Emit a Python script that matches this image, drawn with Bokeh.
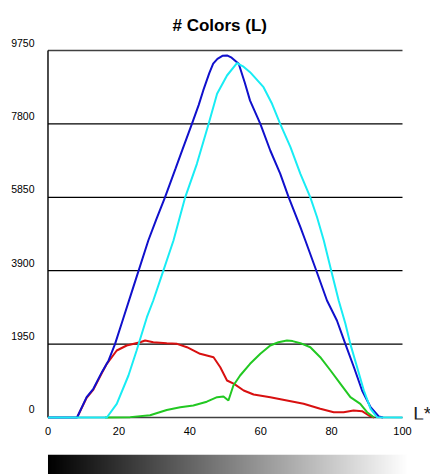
from bokeh.plotting import figure
from bokeh.models import ColumnDataSource, FixedTicker, LinearAxis, Range1d
from bokeh.core.properties import value
from bokeh.layouts import column
from bokeh.embed import file_html
from bokeh.resources import INLINE
import numpy as np

# ---------------- data ----------------
y_ticks = [0, 1950, 3900, 5850, 7800, 9750]
y_tick_labels = ["0", "1950", "3900", "5850", "7800", "9750"]
x_ticks = [0, 20, 40, 60, 80, 100]

blue_L = [0, 8.2, 10.9, 12.8, 15.2, 17.1, 18.9, 21, 24, 28.3, 30.5, 33, 36, 38,
          40.6, 42.5, 43.8, 45.5, 46.6, 47.8, 49.2, 50.5, 51.8, 53.8, 55.5, 57,
          59.9, 62.7, 65.5, 67.9, 71.2, 72.6, 75.7, 78.7, 81.5, 83.9, 86.3,
          88.6, 91, 93.3, 94.5]
blue_n = [0, 0, 540, 762, 1205, 1515, 1950, 2565, 3444, 4703, 5250, 5850, 6620,
          7135, 7800, 8300, 8690, 9150, 9400, 9530, 9610, 9620, 9560, 9400,
          8900, 8420, 7800, 7094, 6480, 5850, 5056, 4703, 3900, 3109, 2577,
          1950, 1336, 717, 274, 27, 0]

cyan_L = [0, 16.6, 19.4, 22.7, 25, 27.9, 29.7, 32, 35.4, 38.7, 42, 45.3, 47.7,
          50.5, 53.3, 55, 57, 60.8, 63.2, 65.5, 68.4, 71.2, 74, 75.9, 77.8,
          79.9, 82, 83.9, 85.3, 87.2, 89.1, 91, 92.8, 100]
cyan_n = [0, 0, 364, 1116, 1780, 2665, 3109, 3750, 4703, 5850, 6740, 7800,
          8600, 9087, 9413, 9330, 9175, 8776, 8335, 7800, 7182, 6475, 5850,
          5322, 4703, 3900, 3109, 2490, 1950, 1336, 717, 230, 8, 0]

red_L = [8.2, 10.9, 12.8, 15.2, 16.6, 19.4, 22.2, 26, 27.4, 29.7, 33.5, 36.4,
         39.2, 42.9, 46.7, 48.6, 50.5, 52.5, 55.2, 58, 62.7, 67.4, 72.1, 76.8,
         80.6, 83.4, 86.2, 88.6, 90.5, 92]
red_n = [0, 520, 740, 1180, 1426, 1780, 1913, 2000, 2046, 2000, 1975, 1957,
         1868, 1692, 1602, 1336, 983, 895, 717, 611, 540, 452, 364, 231, 141,
         141, 186, 168, 53, 0]

green_L = [16.1, 23.2, 28.8, 33.5, 37.3, 41, 44.8, 47.7, 49.5, 50.9, 52.3,
           54.2, 57, 59.9, 62.7, 65, 67.4, 69, 71.2, 74, 76.8, 79.7, 82.5,
           85.3, 88.1, 90, 91.9]
green_n = [0, 10, 60, 200, 274, 319, 420, 540, 558, 452, 850, 1116, 1426, 1692,
           1913, 2000, 2046, 2030, 1975, 1868, 1602, 1249, 895, 540, 364, 141, 8]

FONT = "Liberation Sans"
X_RANGE = (-0.42, 107.9)

# ---------------- main chart ----------------
p = figure(width=430, height=450, output_backend="svg", toolbar_location=None,
           x_range=Range1d(*X_RANGE), y_range=Range1d(-53, 10070),
           min_border_left=46, min_border_right=0, min_border_top=38,
           min_border_bottom=31, x_axis_location=None, y_axis_location=None,
           title="# Colors (L)")
p.outline_line_color = None
p.background_fill_color = "white"
p.border_fill_color = "white"
p.xgrid.visible = False
p.ygrid.visible = False

p.title.align = "left"
p.title.offset = 126
p.title.standoff = 8
p.title.text_font = FONT
p.title.text_font_size = "17px"
p.title.text_font_style = "bold"
p.title.text_color = "black"

# x axis (tick labels only)
xaxis = LinearAxis(ticker=FixedTicker(ticks=x_ticks))
xaxis.axis_line_color = None
xaxis.major_tick_line_color = None
xaxis.minor_tick_line_color = None
xaxis.major_tick_out = 0
xaxis.major_tick_in = 0
xaxis.major_label_standoff = 7
xaxis.major_label_text_font = FONT
xaxis.major_label_text_font_size = "11px"
xaxis.major_label_text_color = "black"
p.add_layout(xaxis, "below")

# y axis: labels sit just above their grid lines (about 8 px)
label_shift = 213
shifted = [v + label_shift for v in y_ticks]
yaxis = LinearAxis(ticker=FixedTicker(ticks=shifted))
yaxis.major_label_overrides = {s: t for s, t in zip(shifted, y_tick_labels)}
yaxis.axis_line_color = None
yaxis.major_tick_line_color = None
yaxis.minor_tick_line_color = None
yaxis.major_tick_out = 0
yaxis.major_tick_in = 0
yaxis.major_label_standoff = 12
yaxis.major_label_text_font = FONT
yaxis.major_label_text_font_size = "10.5px"
yaxis.major_label_text_color = "black"
p.add_layout(yaxis, "left")

# grid lines and left axis line, spanning the data extent only
mid = y_ticks[1:-1]
p.segment(x0=[x_ticks[0]] * len(mid), y0=mid, x1=[x_ticks[-1]] * len(mid),
          y1=mid, line_color="black", line_width=1.2)
edges = [y_ticks[0], y_ticks[-1]]
p.segment(x0=[x_ticks[0]] * 2, y0=edges, x1=[x_ticks[-1]] * 2, y1=edges,
          line_color="#404040", line_width=1.4)
p.segment(x0=[x_ticks[0]], y0=[y_ticks[0]], x1=[x_ticks[0]], y1=[y_ticks[-1]],
          line_color="black", line_width=1.4)

# curves
p.line(red_L, red_n, line_color="#D81010", line_width=2)
p.line(green_L, green_n, line_color="#22C822", line_width=2)
p.line(blue_L, blue_n, line_color="#1010CC", line_width=2)
p.line(cyan_L, cyan_n, line_color="#18ECF4", line_width=2)

# axis name at the right
p.text(x=[103.0], y=[106], text=["L*"], text_align="left",
       text_baseline="alphabetic", text_font=value(FONT),
       text_font_size="19px", text_color="#222222")

# ---------------- lightness bar ----------------
g = figure(width=430, height=24, output_backend="svg", toolbar_location=None,
           x_range=Range1d(*X_RANGE), y_range=Range1d(0, 1),
           min_border_left=46, min_border_right=0, min_border_top=4,
           min_border_bottom=0, x_axis_location=None, y_axis_location=None)
g.outline_line_color = None
g.xgrid.visible = False
g.ygrid.visible = False
grad = np.linspace(0, 1, 256)[None, :]
g.image(image=[grad], x=0, y=0, dw=101.5, dh=1, palette="Greys256")

layout = column(p, g, spacing=0)
open("out.html", "w").write(file_html(layout, INLINE))
